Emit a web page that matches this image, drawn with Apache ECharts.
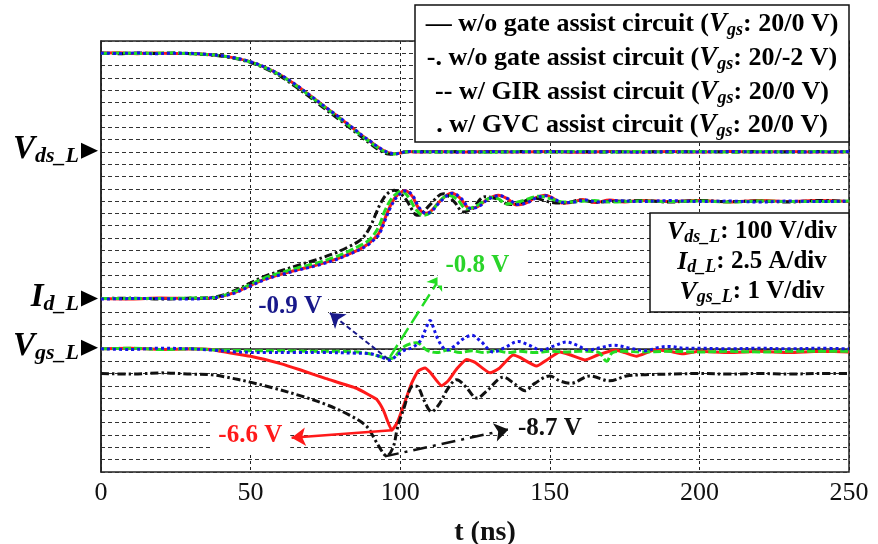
<!DOCTYPE html>
<html>
<head>
<meta charset="utf-8">
<script src="https://cdn.jsdelivr.net/npm/echarts@6/dist/echarts.min.js"></script>
<style>html,body{margin:0;padding:0;background:#fff}#c{width:878px;height:544px}</style>
</head>
<body>
<div id="c"></div>
<script>
// ---------------- DATA (t in ns) ----------------
const xTicks = [0, 50, 100, 150, 200, 250];

// V_ds_L (V)
const vdsRed = [[0,800],[6,804],[12,797],[18,803],[24,798],[30,799],[35,792],[40,781],[45,761],[50,731],[55,684],[60,624],[65,545],[70,455],[75,362],[80,272],[85,176],[88,118],[90,84],[92,48],[94,16],[96,-6],[98,-16],[100,-10],[102,2],[106,-2],[112,3],[120,-2],[130,3],[140,-2],[150,2],[160,-3],[170,2],[180,-2],[190,3],[200,-2],[210,2],[220,-1],[230,3],[240,-2],[250,1]];
const vdsBlack = [[0,802],[6,797],[12,803],[18,798],[24,802],[30,797],[35,790],[40,778],[45,757],[50,725],[55,676],[60,613],[65,530],[70,440],[75,346],[80,255],[85,160],[88,102],[90,66],[92,30],[94,0],[96,-18],[98,-20],[100,-10],[102,-2],[106,2],[112,-2],[120,2],[130,-2],[140,2],[150,-2],[160,2],[170,-2],[180,2],[190,-2],[200,2],[210,-2],[220,2],[230,-2],[240,2],[250,-1]];
const vdsGreen = [[0,798],[6,802],[12,799],[18,801],[24,803],[30,797],[35,791],[40,780],[45,760],[50,729],[55,682],[60,621],[65,541],[70,451],[75,358],[80,267],[85,171],[88,113],[90,78],[92,42],[94,11],[96,-10],[98,-17],[100,-9],[102,1],[106,3],[112,-2],[120,2],[130,-3],[140,2],[150,-2],[160,2],[170,-2],[180,3],[190,-2],[200,2],[210,-2],[220,2],[230,-1],[240,2],[250,0]];
const vdsBlue = [[0,801],[6,799],[12,802],[18,797],[24,801],[30,800],[35,793],[40,782],[45,762],[50,732],[55,686],[60,626],[65,547],[70,457],[75,364],[80,274],[85,178],[88,120],[90,86],[92,50],[94,18],[96,-5],[98,-15],[100,-11],[102,3],[106,-1],[112,2],[120,-3],[130,2],[140,-1],[150,3],[160,-2],[170,1],[180,-3],[190,2],[200,-1],[210,3],[220,-2],[230,1],[240,-2],[250,2]];

// I_d_L (A)
const idRed = [[0,0.2],[10,0.1],[20,0.3],[30,0.2],[36,0.3],[40,0.6],[45,1.5],[50,2.9],[55,4.2],[61,5.3],[66,6.1],[72,7.0],[78,8.1],[83,9.3],[86,10.1],[89,11.2],[91,12.2],[93,13.6],[95,16.6],[97,19.4],[99,21.2],[101.6,22.1],[104,21.0],[106,18.7],[108.3,17.5],[110,17.8],[113,19.8],[117.2,21.65],[120,20.6],[123.3,18.5],[126,18.9],[129,20.3],[132.8,21.2],[136,20.4],[138.9,19.2],[142,19.6],[145,20.6],[148.4,21.2],[151,20.6],[154,19.6],[157,19.7],[161,20.3],[165,19.7],[170,20.2],[175,19.8],[180,20.1],[190,19.9],[200,20.1],[210,19.8],[220,20.1],[230,19.9],[240,20.1],[250,19.9]];
const idBlack = [[0,0.2],[10,0.3],[20,0.1],[30,0.3],[36,0.4],[40,0.8],[45,1.9],[50,3.4],[55,4.8],[61,6.0],[66,7.0],[72,8.1],[78,9.4],[83,10.8],[86,11.8],[88,12.9],[90,14.8],[92,17.6],[93.5,19.6],[95.5,21.4],[98,22.2],[100,21.6],[102.2,20.1],[104,18.2],[105.5,17.1],[107,17.3],[110,19.3],[114.4,21.5],[118,19.9],[121.1,17.8],[124,18.4],[128.3,20.9],[132,20.5],[136.7,19.3],[140,19.6],[144.5,20.6],[150,19.8],[155,19.6],[160,20.2],[165,19.8],[170,19.9],[180,20.1],[190,19.8],[200,20.1],[210,19.9],[220,20.0],[230,19.8],[240,20.1],[250,19.9]];
const idGreen = [[0,0.2],[10,0.2],[20,0.2],[30,0.3],[36,0.3],[40,0.7],[45,1.7],[50,3.1],[55,4.5],[61,5.6],[66,6.5],[72,7.4],[78,8.6],[83,9.9],[86,10.8],[89,11.8],[91,13.0],[93,15.0],[95,18.2],[97.5,20.8],[100.5,22.0],[103,20.6],[105,18.5],[107.7,17.1],[110,17.6],[113,19.8],[116,21.2],[119,20.4],[122.2,18.4],[126,19.2],[131.1,20.8],[133,20.4],[135.6,19.4],[140,19.9],[146.7,21.0],[150,20.5],[155,19.8],[160,19.9],[165,20.1],[170,19.8],[180,20.0],[190,19.9],[200,20.0],[210,19.8],[220,20.0],[230,19.9],[240,19.9],[250,20.0]];
const idBlue = [[0,0.1],[10,0.2],[20,0.2],[30,0.1],[36,0.3],[40,0.6],[45,1.4],[50,2.8],[55,4.1],[61,5.2],[66,6.0],[72,6.9],[78,8.0],[83,9.2],[86,10.0],[89,11.0],[91,12.0],[93,13.3],[95,16.2],[97,19.0],[99,20.9],[102,22.1],[104.3,21.0],[106.3,18.7],[108.6,17.5],[110.3,17.8],[113.3,19.8],[117.5,21.6],[120.3,20.6],[123.6,18.5],[126.3,18.9],[129.3,20.3],[133,21.1],[136.3,20.4],[139.2,19.3],[142.3,19.6],[145.3,20.6],[148.7,21.1],[151.3,20.5],[154.3,19.7],[158,19.8],[162,20.2],[166,19.8],[171,20.1],[180,19.9],[190,20.1],[200,19.9],[210,20.0],[220,19.8],[230,20.0],[240,19.9],[250,20.0]];

// V_gs_L (V)
const vgsRed = [[0,0],[10,0.05],[20,-0.05],[30,0],[37,-0.05],[40,-0.2],[50,-0.6],[60,-1.2],[66.5,-1.7],[75,-2.4],[85.4,-3.2],[90,-3.8],[92.1,-4.1],[94.4,-5.0],[97.2,-6.6],[99,-6.0],[101,-4.7],[103.8,-2.8],[106,-1.8],[108.3,-1.55],[110,-1.9],[113.9,-3.0],[116,-2.6],[119,-1.6],[122.2,-0.86],[125,-1.1],[130,-1.95],[133,-1.6],[137.8,-0.5],[140,-0.7],[145.6,-1.4],[149,-0.9],[153.4,-0.25],[157,-0.5],[161.8,-0.9],[166,-0.5],[171.8,-0.1],[175,-0.3],[179,-0.6],[185,-0.1],[190,-0.2],[194.5,-0.4],[200,-0.2],[210,-0.3],[220,-0.2],[230,-0.3],[240,-0.2],[250,-0.25]];
const vgsBlack = [[0,-2],[10,-2.05],[20,-1.95],[30,-2.05],[37,-2.1],[42,-2.3],[49.8,-2.7],[58,-3.2],[66.5,-3.8],[75,-4.5],[83.2,-5.4],[88.8,-6.3],[91.6,-7.4],[94.4,-8.5],[95.5,-8.7],[97.7,-7.95],[99,-6.5],[101,-5.0],[104.4,-3.0],[106,-3.1],[108,-4.2],[110.5,-5.1],[113,-4.5],[116,-3.2],[118.9,-2.5],[122,-3.1],[125.6,-4.0],[129,-3.4],[134.5,-2.3],[138,-2.8],[141.7,-3.4],[145,-2.8],[150,-2.2],[153.4,-2.6],[157,-2.8],[163.4,-2.2],[170,-2.6],[175.6,-2.2],[182,-2.1],[190,-2.05],[200,-2.0],[210,-2.05],[220,-2.0],[230,-2.05],[240,-2.0],[250,-2.0]];
const vgsGreen = [[0,0],[10,0.05],[20,-0.05],[30,0],[40,-0.1],[50,-0.15],[60,-0.15],[70,-0.2],[80,-0.2],[88.8,-0.35],[93,-0.6],[96.6,-0.8],[98,-0.7],[100,-0.1],[102.2,0.3],[105.5,0.5],[108.9,-0.1],[112.2,-0.3],[116,-0.1],[120,-0.3],[124,-0.15],[128,-0.3],[132,-0.15],[136,-0.3],[140,-0.2],[145,-0.3],[150,-0.2],[155,-0.25],[160,-0.2],[166,-0.25],[169,-1.0],[171,-0.3],[175,-0.2],[180,-0.25],[190,-0.2],[200,-0.25],[210,-0.2],[220,-0.25],[230,-0.2],[240,-0.2],[250,-0.2]];
const vgsBlue = [[0,0],[10,-0.05],[20,0.05],[30,0],[37,-0.1],[45,-0.25],[55,-0.3],[65,-0.3],[75,-0.3],[85,-0.35],[90,-0.4],[93,-0.6],[96.6,-0.9],[99,-0.5],[101.5,-0.1],[104,0.1],[106.6,0.6],[108.5,1.6],[110,2.3],[111,1.8],[112.2,1.0],[114,0.2],[115.5,-0.1],[118,0.2],[121,0.8],[123.9,1.1],[127,0.6],[131.1,-0.25],[135,0.1],[139.5,0.6],[143,0.3],[147.2,-0.1],[151,0.2],[155.6,0.55],[159,0.3],[163,-0.1],[167,0.1],[171.5,0.3],[176,0.1],[182,-0.15],[186,0.1],[190,0.2],[195,0.05],[200,0.05],[210,0],[220,0.05],[230,0],[240,0.05],[250,0]];

// ---------------- STYLE ----------------
const FONT = '"Liberation Serif","Times New Roman",serif';
const C = {red:'#ff1a1a', black:'#111111', green:'#22dd22', blue:'#1515e8', navy:'#18188a', gtext:'#2ad42a'};
const LW = 3;
const styles = {
  red:   {color:C.red, width:LW, type:'solid'},
  black: {color:C.black, width:LW, type:[8,3,2.5,3]},
  green: {color:C.green, width:LW, type:[8,3]},
  blue:  {color:C.blue, width:LW, type:[3,3]}
};

function mk(name, data, yIdx, st, extra) {
  return Object.assign({
    name, type:'line', data, yAxisIndex:yIdx, showSymbol:false, symbol:'none',
    smooth:0.35, lineStyle:Object.assign({}, st), silent:true, z:3
  }, extra || {});
}
function lab(text, t, v, color, pad) {
  return {coord:[t, v], label:{show:true, position:'inside', formatter:text, fontFamily:FONT,
    fontSize:25, fontWeight:'bold', color:color, backgroundColor:'#fff', padding:pad}};
}
function arrow(t0, v0, t1, v1, color, type, w) {
  return [{coord:[t0,v0], lineStyle:{color, type, width:w}, itemStyle:{color}}, {coord:[t1,v1], itemStyle:{color}}];
}
function ml(data) {
  return {silent:true, symbol:['none','arrow'], symbolSize:14, label:{show:false}, data};
}
function mp(data) {
  return {silent:true, symbol:'rect', symbolSize:1, itemStyle:{color:'rgba(0,0,0,0)'}, data};
}

const chart = echarts.init(document.getElementById('c'));
const option = {
  animation:false,
  backgroundColor:'#fff',
  grid:{left:101, right:29, top:41, bottom:72, show:true, borderColor:'#222', borderWidth:1.5,
        containLabel:false, outerBoundsMode:'none'},
  xAxis:{type:'value', min:xTicks[0], max:xTicks[xTicks.length-1], interval:50,
    axisLine:{show:true, lineStyle:{color:'#222', width:1.5}}, axisTick:{show:false},
    axisLabel:{color:'#111', fontFamily:FONT, fontSize:26, margin:8, showMinLabel:true, showMaxLabel:true},
    splitLine:{show:true, lineStyle:{type:[3,3], color:'#222', width:1}},
    name:'t (ns)', nameLocation:'middle', nameGap:47,
    nameTextStyle:{fontFamily:FONT, fontSize:28, fontWeight:'bold', color:'#111', padding:[0,0,0,20]}},
  yAxis:[
    {type:'value', min:-10, max:25, interval:1, axisLine:{show:true, lineStyle:{color:'#222', width:1.5}},
     axisTick:{show:false}, axisLabel:{show:false},
     splitLine:{show:true, lineStyle:{type:[4,3], color:'#333', width:1}}},
    {type:'value', min:-35, max:52.5, show:false, splitLine:{show:false}},
    {type:'value', min:-2600, max:900, show:false, splitLine:{show:false}}
  ],
  series:[
    mk('Vds red', vdsRed, 2, styles.red),
    mk('Vds black', vdsBlack, 2, styles.black),
    mk('Vds green', vdsGreen, 2, styles.green),
    mk('Vds blue', vdsBlue, 2, styles.blue),
    mk('Id red', idRed, 1, styles.red),
    mk('Id black', idBlack, 1, styles.black),
    mk('Id green', idGreen, 1, styles.green),
    mk('Id blue', idBlue, 1, styles.blue),
    mk('Vgs red', vgsRed, 0, styles.red, {smooth:0.15,
      markLine:ml([arrow(97.2,-6.6,63.7,-7.22,C.red,'solid',2.5)]),
      markPoint:mp([lab('-6.6 V',49.9,-7.06,C.red,[6,8,4,8])])}),
    mk('Vgs black', vgsBlack, 0, styles.black, {
      markLine:ml([arrow(94.9,-8.73,136.2,-6.54,C.black,[14,6,3,6],2.5)]),
      markPoint:mp([lab('-8.7 V',150.7,-6.46,C.black,[6,14,4,10])])}),
    mk('Vgs green', vgsGreen, 0, styles.green, {
      markLine:ml([arrow(96.6,-0.65,113.9,5.98,C.green,[14,6],2.5)]),
      markPoint:mp([lab('-0.8 V',127.5,6.8,C.gtext,[8,18,8,8])])}),
    mk('Vgs blue', vgsBlue, 0, styles.blue, {
      markLine:ml([arrow(96,-0.84,76.5,2.92,C.navy,[5,3],2)]),
      markPoint:mp([lab('-0.9 V',63.2,3.47,C.navy,[4,6,4,6])])})
  ]
};
chart.setOption(option);

// ---------------- TEXT / GRAPHICS ----------------
function richSet(prefix, color, fs, subFs, lh) {
  const o = {};
  o[prefix+'b'] = {color, fontFamily:FONT, fontSize:fs, fontWeight:'bold', lineHeight:lh, verticalAlign:'middle'};
  o[prefix+'i'] = {color, fontFamily:FONT, fontSize:fs+1, fontWeight:'bold', fontStyle:'italic', lineHeight:lh, verticalAlign:'middle'};
  o[prefix+'s'] = {color, fontFamily:FONT, fontSize:subFs, fontWeight:'bold', fontStyle:'italic', lineHeight:subFs+1, verticalAlign:'bottom'};
  return o;
}
const legRich = Object.assign({}, richSet('r',C.red,26,18,31), richSet('k',C.black,26,18,31),
  richSet('g',C.gtext,26,18,31), richSet('n',C.navy,26,18,31));
const scaleRich = richSet('k',C.black,25,18,29);
const sideRich = {
  v:{color:'#111', fontFamily:FONT, fontSize:33, fontWeight:'bold', fontStyle:'italic', lineHeight:35, verticalAlign:'middle'},
  s:{color:'#111', fontFamily:FONT, fontSize:22, fontWeight:'bold', fontStyle:'italic', lineHeight:22, verticalAlign:'bottom'}
};

const legendLines = [
  '{rb|— w/o gate assist circuit (}{ri|V}{rs|gs}{rb|: 20/0 V)}',
  '{kb|-. w/o gate assist circuit (}{ki|V}{ks|gs}{kb|: 20/-2 V)}',
  '{gb|-- w/ GIR assist circuit (}{gi|V}{gs|gs}{gb|: 20/0 V)}',
  '{nb|. w/ GVC assist circuit (}{ni|V}{ns|gs}{nb|: 20/0 V)}'
];
const scaleLines = [
  '{ki|V}{ks|ds_L}{kb|: 100 V/div}',
  '{ki|I}{ks|d_L}{kb|: 2.5 A/div}',
  '{ki|V}{ks|gs_L}{kb|: 1 V/div}'
];
const sideLabels = [
  {text:'{v|V}{s|ds_L}', axis:2, val:0},
  {text:'{v|I}{s|d_L}', axis:1, val:0},
  {text:'{v|V}{s|gs_L}', axis:0, val:0}
];

const g = [];
g.push({type:'rect', shape:{x:415, y:5, width:434, height:137}, style:{fill:'#fff', stroke:'#111', lineWidth:1.5}, z:100});
const legY = [24, 58, 92, 125];
legendLines.forEach((t,i)=>g.push({type:'text', x:632, y:legY[i], z:101,
  style:{text:t, rich:legRich, align:'center', verticalAlign:'middle'}}));
g.push({type:'rect', shape:{x:650, y:213, width:199, height:99}, style:{fill:'#fff', stroke:'#111', lineWidth:1.5}, z:100});
const scY = [232, 262, 292];
scaleLines.forEach((t,i)=>g.push({type:'text', x:752, y:scY[i], z:101,
  style:{text:t, rich:scaleRich, align:'center', verticalAlign:'middle'}}));
sideLabels.forEach(s=>{
  const y = chart.convertToPixel({yAxisIndex:s.axis}, s.val);
  g.push({type:'text', x:79, y:y-2, z:101, style:{text:s.text, rich:sideRich, align:'right', verticalAlign:'middle'}});
  g.push({type:'polygon', z:101, shape:{points:[[81,y-9],[81,y+7],[98,y-1]]}, style:{fill:'#000'}});
});
chart.setOption({graphic:g});
</script>
</body>
</html>
